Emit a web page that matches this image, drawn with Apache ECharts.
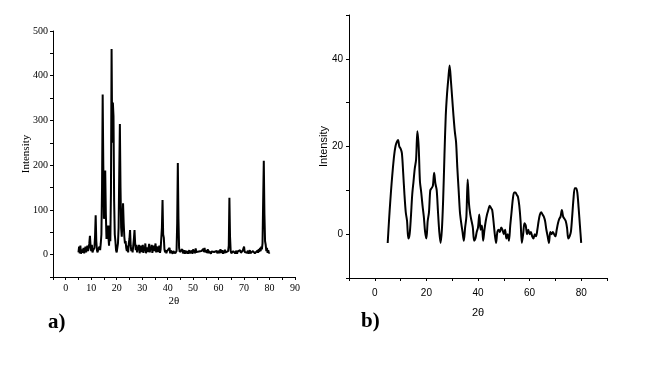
<!DOCTYPE html>
<html><head><meta charset="utf-8">
<script src="https://cdn.jsdelivr.net/npm/echarts@6/dist/echarts.min.js"></script>
<style>html,body{margin:0;padding:0;background:#fff}#c{width:650px;height:366px}</style>
</head><body><div id="c"></div>
<script>
// Panel a) XRD pattern, 2θ from 5 to 80 in steps of 0.25
const aStart = 5, aStep = 0.25;
const intensityA = [
  5,18,3,20,2,12,4,8,15,3,10,18,5,12,20,8,14,25,42,20,
  8,22,5,10,6,15,40,88,30,10,5,12,8,18,10,25,45,150,358,200,
  80,120,188,90,35,50,65,40,20,65,30,140,460,250,340,310,120,45,30,10,
  5,15,25,60,180,292,150,60,40,75,115,70,40,25,30,15,8,20,5,25,
  35,55,20,8,15,5,20,35,55,25,10,22,5,18,10,22,3,15,20,6,
  12,22,4,18,8,25,3,16,20,6,14,24,5,18,10,22,4,15,20,8,
  15,25,5,18,22,6,15,20,4,12,8,60,122,45,38,12,5,10,3,8,
  4,12,6,15,3,9,5,11,2,8,4,10,3,6,8,70,205,80,15,6,
  2,8,4,12,3,7,10,2,9,5,3,8,2,6,10,3,7,4,9,2,
  12,5,10,3,14,6,2,9,4,7,3,10,5,8,12,4,13,6,15,5,
  10,14,4,12,3,8,5,11,2,7,10,3,9,6,2,10,4,8,3,6,
  9,3,7,12,4,6,10,2,8,3,11,5,4,9,3,8,20,127,40,8,
  3,6,2,8,4,10,3,5,9,2,7,4,8,3,10,4,6,2,9,5,
  18,6,10,3,8,4,9,2,6,10,3,7,5,2,8,4,6,3,7,2,
  5,9,4,12,6,15,8,18,12,25,120,210,90,30,22,8,15,4,10,3,
  5
];
// Panel b) pattern, 2θ from 5 to 80 in steps of 0.5
const bStart = 5, bStep = 0.5;
const intensityB = [
  -2,3,7.5,11.5,15,18,20,21,21.5,20,
  19.5,18.5,14,9,5,3,-1,0,4,9,
  12,15,17,23.5,20,12,9.5,6.5,4,0.5,
  -1,3,5,10,10.5,11,14,11.5,10,5,
  0.5,-2,1,8,18,27,32,35.5,38.5,35,
  31,27,23.5,21,15,10,5,2.5,0.5,-1.5,
  1.5,4,12.5,7,4.5,3,1.5,-1.5,-1,0.5,
  1.5,4.5,1,2,-1.5,1,3,4.5,5.5,6.5,
  6,5.5,3,0,-2,0.5,1,0.5,1.5,1,
  0,1,-1,0,-1.5,2,5,8,9.5,9.5,
  9,8.5,6.5,3,-2,0,2.5,2,0,1,
  0,0.5,-0.5,-1,0,-0.5,1,3,4.5,5,
  4.5,4,3,1,-0.5,-2,0.5,0,0.5,0,
  -0.5,1,2.5,3.5,4,5.5,4,3.5,3,1.5,
  -1,-0.5,0.5,4,8,10.5,10.5,9.5,6,2,
  -2
];
const xTitle = '2θ';
const yTitle = 'Intensity';
const panelLabels = ['a)', 'b)'];

const serif = '"Liberation Serif","Times New Roman",serif';
const sans = '"Liberation Sans",Arial,sans-serif';
const dataA = intensityA.map((v, i) => [aStart + i * aStep, v]);
const dataB = intensityB.map((v, i) => [bStart + i * bStep, v]);

const axisCommon = (font, size) => ({
  axisLine: {show: true, onZero: false, lineStyle: {color: '#000', width: 1}},
  axisTick: {show: true, inside: false, length: 3, lineStyle: {color: '#000', width: 1}},
  splitLine: {show: false},
  nameMoveOverlap: false,
  axisLabel: {color: '#000', fontFamily: font, fontSize: size},
  nameTextStyle: {color: '#000', fontFamily: font, fontSize: size + 1}
});

const chart = echarts.init(document.getElementById('c'));
chart.setOption({
  animation: false,
  backgroundColor: '#fff',
  grid: [
    {left: 53, top: 31, width: 242, height: 246},
    {left: 349, top: 15, width: 258, height: 263}
  ],
  xAxis: [
    Object.assign(axisCommon(serif, 10), {
      gridIndex: 0, type: 'value', min: -5, max: 90, interval: 5,
      name: xTitle, nameLocation: 'middle', nameGap: 19,
      axisLabel: {color: '#000', fontFamily: serif, fontSize: 10, margin: 6,
        formatter: v => (v % 10 === 0 ? String(v) : '')}
    }),
    Object.assign(axisCommon(sans, 10), {
      gridIndex: 1, type: 'value', min: -10, max: 90, interval: 10,
      name: xTitle, nameLocation: 'middle', nameGap: 29,
      axisLabel: {color: '#000', fontFamily: sans, fontSize: 10, margin: 10,
        formatter: v => (v % 20 === 0 && v >= 0 && v <= 80 ? String(v) : '')}
    })
  ],
  yAxis: [
    Object.assign(axisCommon(serif, 10), {
      gridIndex: 0, type: 'value', min: -50, max: 500, interval: 50,
      name: yTitle, nameLocation: 'middle', nameGap: 21, nameRotate: 90,
      axisLabel: {color: '#000', fontFamily: serif, fontSize: 10, margin: 5,
        formatter: v => (v % 100 === 0 && v >= 0 ? String(v) : '')}
    }),
    Object.assign(axisCommon(sans, 10), {
      gridIndex: 1, type: 'value', min: -10, max: 50, interval: 10,
      name: yTitle, nameLocation: 'middle', nameGap: 20, nameRotate: 90,
      axisLabel: {color: '#000', fontFamily: sans, fontSize: 10, margin: 6,
        formatter: v => (v % 20 === 0 && v >= 0 && v <= 40 ? String(v) : '')}
    })
  ],
  series: [
    {type: 'line', xAxisIndex: 0, yAxisIndex: 0, data: dataA, showSymbol: false,
      lineStyle: {color: '#000', width: 2}, silent: true},
    {type: 'line', xAxisIndex: 1, yAxisIndex: 1, data: dataB, showSymbol: false, smooth: 0.3,
      lineStyle: {color: '#000', width: 2}, silent: true}
  ],
  graphic: [
    {type: 'text', left: 48, top: 312, style: {text: panelLabels[0], font: 'bold 21px ' + serif, fill: '#000'}},
    {type: 'text', left: 361, top: 311, style: {text: panelLabels[1], font: 'bold 21px ' + serif, fill: '#000'}}
  ]
});
</script></body></html>
